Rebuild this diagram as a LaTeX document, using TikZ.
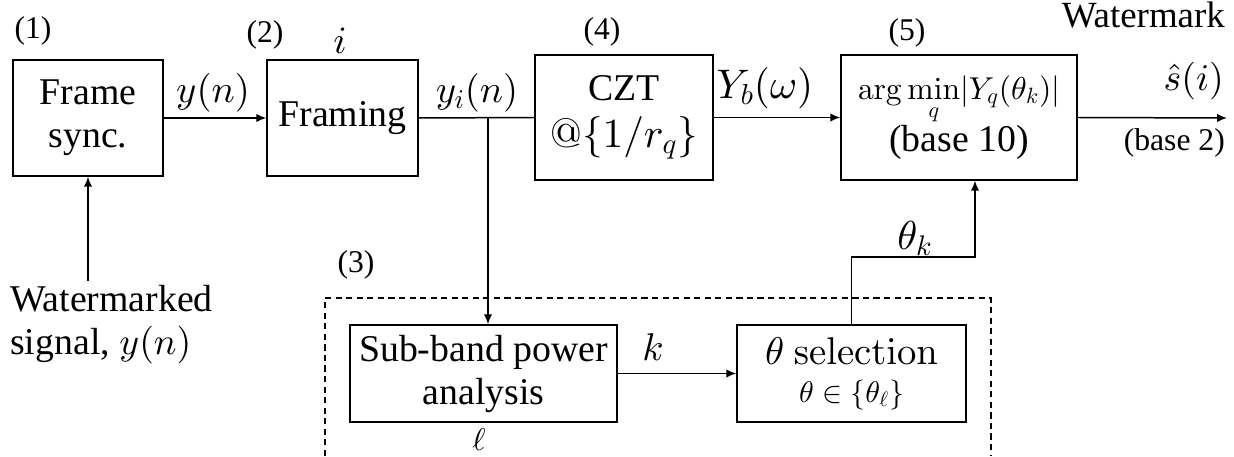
\RequirePackage{fix-cm}
\documentclass[tikz,border=0pt]{standalone}
\usepackage[no-math]{fontspec}
\setmainfont{Liberation Serif}
\usepackage{amsmath, amssymb}
\DeclareFontShape{OT1}{cmr}{m}{n}{<-> cmr10}{}
\DeclareFontShape{OML}{cmm}{m}{it}{<-> cmmi10}{}
\DeclareFontShape{OMS}{cmsy}{m}{n}{<-> cmsy10}{}
\DeclareFontShape{OMX}{cmex}{m}{n}{<-> cmex10}{}
\usetikzlibrary{arrows.meta, positioning, calc}

\begin{document}
\begin{tikzpicture}[
  block/.style={draw, line width=0.85pt, align=center, inner sep=2pt, font=\fontsize{21.5}{24.5}\selectfont},
  conn/.style={line width=0.85pt},
  arr/.style={conn, -{Latex[length=0.2cm, width=0.17cm]}},
  lbl/.style={font=\fontsize{18}{22}\selectfont},
  sig/.style={font=\fontsize{22}{26}\selectfont}
]
  \useasboundingbox (0,0) rectangle (24.68,9.12);

  % Top row of blocks
  \node[block, minimum width=3.0cm, minimum height=2.32cm] (fs) at (1.76, 6.76) {Frame\\sync.};
  \node[block, minimum width=3.02cm, minimum height=2.32cm] (fr) at (6.85, 6.76) {Framing};
  \node[block, minimum width=3.56cm, minimum height=2.5cm] (czt) at (12.48, 6.77) {CZT\\[2pt] {\fontsize{23.5}{26}\selectfont $@\{1/r_q\}$}};
  \node[block, minimum width=4.72cm, minimum height=2.5cm] (am) at (19.18, 6.77) {{\fontsize{18}{22}\selectfont $\displaystyle\arg\mathop{\min}\limits_q\!|Y_q(\theta_k)|$}\\[-1pt] (base 10)};

  % Block numbers
  \node[lbl] (n1) at (0.66, 8.5) {(1)};
  \node[lbl] (n2) at (5.3, 8.42) {(2)};
  \node[lbl] (n4) at (12.04, 8.48) {(4)};
  \node[lbl] (n5) at (18.14, 8.46) {(5)};
  \node[sig] (idx) at (6.8, 8.3) {$i$};

  % Input
  \node[block, draw=none, align=left, anchor=north west] (wm) at (0.12, 3.5) {Watermarked\\signal, $y(n)$};
  \draw[arr] (fs.south |- wm.north) -- (fs.south);

  % Main path
  \draw[arr] (fs.east) -- (fr.west);
  \node[sig] (yn) at (4.26, 7.26) {$y(n)$};
  \draw[conn] (fr.east) -- (czt.west);
  \node[sig] (yin) at (9.54, 7.26) {$y_i(n)$};
  \draw[arr] (czt.east) -- (am.west);
  \node[font=\fontsize{23.5}{26}\selectfont] (yb) at (15.3, 7.36) {$Y_b(\omega)$};

  % Output
  \coordinate (out) at (24.54, 6.76);
  \draw[arr] (am.east) -- (out);
  \node[font=\fontsize{21}{22}\selectfont, anchor=base east] (wmk) at (24.62, 8.56) {Watermark};
  \node[font=\fontsize{21.5}{22}\selectfont, anchor=base east] (shat) at (24.6, 7.3) {$\hat{s}(i)$};
  \node[font=\fontsize{18}{22}\selectfont, anchor=base east] (b2) at (24.62, 6.1) {(base 2)};

  % Sub-band analysis and theta selection
  \node[block, minimum width=5.34cm, minimum height=1.94cm] (sb) at (9.67, 1.65) {Sub-band power\\analysis};
  \node[block, minimum width=4.58cm, minimum height=1.94cm] (ts) at (17.03, 1.65) {{\fontsize{22}{24}\selectfont $\theta\ \mathrm{selection}$}\\[-3pt] {\fontsize{17}{20}\selectfont $\theta\in\{\theta_\ell\}$}};
  \coordinate (br) at (9.76, 6.76);
  \draw[arr] (br) -- (br |- sb.north);
  \draw[arr] (sb.east) -- (ts.west);
  \node[sig] (kl) at (13.06, 2.18) {$k$};
  \node[lbl] (ell) at (9.58, 0.32) {$\ell$};

  % Theta_k feedback
  \coordinate (tk) at (19.5, 3.98);
  \draw[arr] (ts.north) |- (tk) -- (tk |- am.south);
  \node[font=\fontsize{23}{26}\selectfont] (thk) at (18.3, 4.36) {$\theta_k$};

  % Dashed group (3)
  \draw[line width=0.8pt, dash pattern=on 3.5pt off 2.5pt] (6.5, 0) |- (19.82, 3.16) -- (19.82, 0);
  \node[lbl] (n3) at (7.12, 3.82) {(3)};
\end{tikzpicture}
\end{document}
